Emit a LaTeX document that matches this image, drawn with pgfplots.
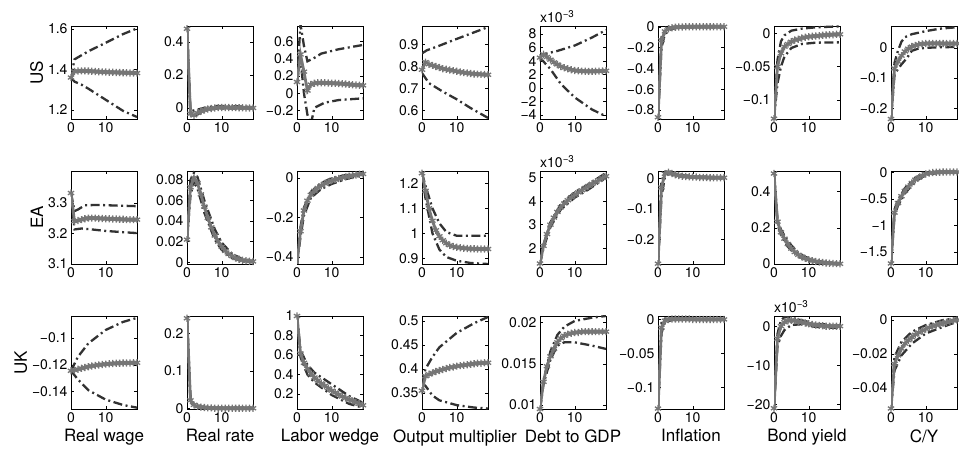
\documentclass[border=0pt]{standalone}
\usepackage{pgfplots}
\pgfplotsset{compat=1.18}
\usepackage{fontspec}
\setmainfont{TeX Gyre Heros}
\definecolor{medc}{RGB}{118,118,118}
\definecolor{bandc}{RGB}{50,50,50}
\newcommand{\ticksz}{\fontsize{14}{14}\selectfont}
\newcommand{\labsz}{\fontsize{17}{18}\selectfont}
\pgfplotsset{
  pan/.style={scale only axis, width=66pt, height=93pt, anchor=north west,
    xmin=0, xmax=19, xtick={0,10}, xticklabels={0,10},
    tick align=inside, major tick length=3pt,
    every tick/.style={black, line width=0.4pt},
    axis line style={black, line width=0.9pt},
    tick label style={font=\ticksz},
    label style={font=\labsz},
    scaled y ticks=false, scaled x ticks=false,
    ylabel style={yshift=-2pt},
  },
  med/.style={draw=medc, line width=2.8pt, mark=asterisk, mark size=3.6pt, mark options={solid, line width=1.3pt, draw=medc}},
  band/.style={draw=bandc, line width=2.3pt, dash pattern=on 9pt off 3.5pt on 2pt off 3.5pt, no marks},
}
\newcommand{\M}[1]{\addplot[med] table[x expr=\coordindex, y index=0, row sep=\\, header=false] {#1};}
\newcommand{\B}[1]{\addplot[band] coordinates {#1};}
\begin{document}
\begin{tikzpicture}
\useasboundingbox (0pt,0pt) rectangle (959pt,450pt);
%================ ROW 1 : US =================
\begin{axis}[pan, at={(71pt,424pt)}, ymin=1.155, ymax=1.615, ytick={1.2,1.4,1.6}, yticklabels={1.2,1.4,1.6}, ylabel={US}]
\B{(0,1.36)(1,1.45)(3,1.47)(5,1.49)(10,1.532)(15,1.575)(19,1.603)}
\B{(0,1.36)(1,1.34)(3,1.325)(5,1.305)(10,1.25)(15,1.195)(19,1.165)}
\M{1.36\\1.39\\1.392\\1.393\\1.393\\1.392\\1.391\\1.39\\1.389\\1.388\\1.387\\1.386\\1.386\\1.385\\1.385\\1.384\\1.384\\1.383\\1.383\\1.382\\}
\end{axis}
\begin{axis}[pan, at={(187pt,424pt)}, ymin=-0.067, ymax=0.497, ytick={0,0.2,0.4}, yticklabels={0,0.2,0.4}]
\B{(0,0.48)(1,-0.02)(3,-0.01)(5,0.0)(8,0.012)(12,0.012)(16,0.008)(19,0.005)}
\B{(0,0.48)(1,-0.05)(3,-0.04)(5,-0.015)(8,-0.005)(12,-0.003)(19,-0.002)}
\M{0.48\\-0.035\\-0.045\\-0.03\\-0.02\\-0.012\\-0.007\\-0.003\\0\\0.002\\0.003\\0.003\\0.003\\0.002\\0.002\\0.001\\0.001\\0\\0\\0\\}
\end{axis}
\begin{axis}[pan, at={(297pt,424pt)}, ymin=-0.30, ymax=0.78, ytick={-0.2,0,0.2,0.4,0.6}, yticklabels={−0.2,0,0.2,0.4,0.6}]
\B{(0,0.13)(1,0.80)(2,0.55)(3,0.37)(5,0.41)(7,0.46)(12,0.51)(19,0.56)}
\B{(0,0.13)(1,0.40)(2,0.0)(3,-0.25)(4,-0.36)(5,-0.17)(8,-0.11)(12,-0.08)(19,-0.06)}
\M{0.13\\0.45\\0.25\\0.03\\0.10\\0.115\\0.12\\0.12\\0.12\\0.118\\0.116\\0.114\\0.112\\0.11\\0.106\\0.102\\0.098\\0.095\\0.092\\0.09\\}
\end{axis}
\begin{axis}[pan, at={(422pt,424pt)}, ymin=0.56, ymax=0.985, ytick={0.6,0.7,0.8,0.9}, yticklabels={0.6,0.7,0.8,0.9}]
\B{(0,0.86)(1.4,0.874)(5,0.895)(9,0.92)(14,0.95)(19,0.98)}
\B{(0,0.77)(2,0.724)(6,0.685)(10,0.65)(14,0.61)(19,0.565)}
\M{0.785\\0.82\\0.81\\0.805\\0.80\\0.795\\0.79\\0.787\\0.784\\0.781\\0.778\\0.775\\0.772\\0.77\\0.768\\0.766\\0.765\\0.764\\0.763\\0.762\\}
\end{axis}
\begin{axis}[pan, name=p15, at={(540pt,424pt)}, ymin=-4.6, ymax=9.2, ytick={-4,-2,0,2,4,6,8}, yticklabels={−4,−2,0,2,4,6,8}]
\B{(0,4.5)(1,5.0)(5,5.5)(10,6.3)(15,7.5)(19,8.6)}
\B{(0,4.5)(3,2.8)(6,0.6)(10,-1.4)(15,-3.2)(19,-4.2)}
\M{4.5\\5.0\\4.6\\4.2\\3.8\\3.5\\3.2\\3.0\\2.85\\2.7\\2.6\\2.55\\2.5\\2.48\\2.47\\2.47\\2.48\\2.5\\2.52\\2.55\\}
\end{axis}
\node[anchor=south west, font=\ticksz, inner sep=0pt] at ([yshift=3pt]p15.north west) {x10\textsuperscript{−3}};
\begin{axis}[pan, at={(658pt,424pt)}, ymin=-0.887, ymax=0.007, ytick={-0.8,-0.6,-0.4,-0.2,0}, yticklabels={−0.8,−0.6,−0.4,−0.2,0}]
\B{(0,-0.87)(1,-0.10)(2,-0.03)(3,-0.01)(5,0)(19,0.003)}
\B{(0,-0.87)(1,-0.2)(2,-0.07)(3,-0.035)(5,-0.012)(8,-0.004)(19,-0.002)}
\M{-0.87\\-0.13\\-0.045\\-0.02\\-0.01\\-0.005\\-0.003\\-0.002\\-0.001\\0\\0\\0\\0\\0\\0\\0\\0\\0\\0\\0\\}
\end{axis}
\begin{axis}[pan, at={(774pt,424pt)}, ymin=-0.1285, ymax=0.011, ytick={-0.1,-0.05,0}, yticklabels={−0.1,−0.05,0}]
\B{(0,-0.128)(1,-0.04)(2,-0.012)(3,-0.003)(5,0.004)(8,0.007)(12,0.009)(19,0.0105)}
\B{(0,-0.128)(1,-0.075)(2,-0.05)(3,-0.035)(5,-0.022)(8,-0.016)(12,-0.014)(19,-0.0135)}
\M{-0.128\\-0.05\\-0.03\\-0.02\\-0.016\\-0.0126\\-0.01\\-0.009\\-0.007\\-0.006\\-0.005\\-0.0045\\-0.004\\-0.0035\\-0.003\\-0.0025\\-0.002\\-0.002\\-0.0015\\-0.0015\\}
\end{axis}
\begin{axis}[pan, at={(891pt,424pt)}, ymin=-0.235, ymax=0.072, ytick={-0.2,-0.1,0}, yticklabels={−0.2,−0.1,0}]
\B{(0,-0.235)(1,-0.05)(2,-0.01)(3,0.02)(4,0.035)(6,0.045)(10,0.055)(14,0.063)(19,0.068)}
\B{(0,-0.235)(1,-0.09)(2,-0.07)(3,-0.055)(4.5,-0.035)(6,-0.01)(8,-0.002)(12,0.001)(19,0.003)}
\M{-0.235\\-0.068\\-0.046\\-0.026\\-0.012\\-0.003\\0.004\\0.008\\0.011\\0.013\\0.014\\0.0145\\0.0145\\0.0145\\0.0145\\0.014\\0.014\\0.014\\0.014\\0.014\\}
\end{axis}
%================ ROW 2 : EA =================
\begin{axis}[pan, at={(71pt,279pt)}, ymin=3.1, ymax=3.404, ytick={3.1,3.2,3.3}, yticklabels={3.1,3.2,3.3}, ylabel={EA}]
\B{(0,3.332)(1,3.273)(2,3.278)(4,3.292)(8,3.293)(13,3.291)(19,3.289)}
\B{(0,3.332)(1,3.213)(3,3.216)(6,3.213)(10,3.208)(15,3.204)(19,3.201)}
\M{3.332\\3.24\\3.242\\3.245\\3.248\\3.25\\3.25\\3.25\\3.249\\3.249\\3.248\\3.248\\3.247\\3.247\\3.246\\3.246\\3.245\\3.245\\3.245\\3.245\\}
\end{axis}
\begin{axis}[pan, at={(187pt,279pt)}, ymin=-0.0017, ymax=0.0887, ytick={0,0.02,0.04,0.06,0.08}, yticklabels={0,0.02,0.04,0.06,0.08}]
\B{(0,0.022)(1,0.08)(2,0.087)(3,0.083)(5,0.06)(8,0.032)(10,0.019)(13,0.008)(16,0.003)(19,0.0015)}
\B{(0,0.022)(1,0.065)(2,0.078)(3,0.072)(5,0.048)(8,0.022)(10,0.012)(13,0.004)(16,0.001)(19,0.0)}
\M{0.022\\0.073\\0.082\\0.077\\0.066\\0.054\\0.043\\0.034\\0.026\\0.020\\0.015\\0.011\\0.008\\0.006\\0.004\\0.003\\0.002\\0.0015\\0.001\\0.0008\\}
\end{axis}
\begin{axis}[pan, at={(297pt,279pt)}, ymin=-0.437, ymax=0.036, ytick={-0.4,-0.2,0}, yticklabels={−0.4,−0.2,0}]
\B{(0,-0.44)(1,-0.25)(2,-0.15)(4,-0.07)(7,-0.025)(10,0.0)(14,0.015)(19,0.025)}
\B{(0,-0.44)(1,-0.3)(2,-0.19)(4,-0.10)(7,-0.055)(10,-0.03)(14,-0.005)(19,0.015)}
\M{-0.44\\-0.27\\-0.165\\-0.115\\-0.085\\-0.065\\-0.05\\-0.038\\-0.028\\-0.02\\-0.013\\-0.007\\-0.002\\0.002\\0.006\\0.01\\0.013\\0.016\\0.019\\0.021\\}
\end{axis}
\begin{axis}[pan, at={(422pt,279pt)}, ymin=0.877, ymax=1.249, ytick={0.9,1,1.1,1.2}, yticklabels={0.9,1,1.1,1.2}]
\B{(0,1.24)(1,1.19)(3,1.10)(5,1.04)(7,1.005)(10,0.99)(19,0.99)}
\B{(0,1.24)(1,1.14)(3,1.00)(5,0.935)(7,0.905)(10,0.89)(14,0.881)(19,0.877)}
\M{1.24\\1.17\\1.10\\1.05\\1.012\\0.988\\0.972\\0.96\\0.952\\0.947\\0.944\\0.942\\0.94\\0.939\\0.938\\0.938\\0.937\\0.937\\0.937\\0.937\\}
\end{axis}
\begin{axis}[pan, name=p25, at={(540pt,279pt)}, ymin=1.33, ymax=5.28, ytick={2,3,4,5}, yticklabels={2,3,4,5}]
\B{(0,1.35)(1,2.15)(3,3.1)(6,3.87)(10,4.38)(14,4.72)(19,5.2)}
\B{(0,1.35)(1,2.0)(3,2.9)(6,3.65)(10,4.15)(14,4.5)(19,5.0)}
\M{1.35\\2.1\\2.6\\3.0\\3.3\\3.54\\3.74\\3.9\\4.04\\4.16\\4.27\\4.37\\4.465\\4.555\\4.645\\4.735\\4.82\\4.9\\4.98\\5.06\\}
\end{axis}
\node[anchor=south west, font=\ticksz, inner sep=0pt] at ([yshift=3pt]p25.north west) {x10\textsuperscript{−3}};
\begin{axis}[pan, at={(658pt,279pt)}, ymin=-0.281, ymax=0.024, ytick={-0.2,-0.1,0}, yticklabels={−0.2,−0.1,0}]
\B{(0,-0.28)(1,-0.01)(2,0.02)(3,0.022)(5,0.015)(10,0.006)(19,0.003)}
\B{(0,-0.28)(1,-0.06)(2,0.005)(3,0.015)(5,0.01)(10,0.003)(19,0.001)}
\M{-0.28\\-0.03\\0.015\\0.02\\0.016\\0.012\\0.009\\0.007\\0.006\\0.005\\0.004\\0.004\\0.003\\0.003\\0.003\\0.002\\0.002\\0.002\\0.002\\0.002\\}
\end{axis}
\begin{axis}[pan, at={(774pt,279pt)}, ymin=0, ymax=0.514, ytick={0,0.2,0.4}, yticklabels={0,0.2,0.4}]
\B{(0,0.5)(1,0.245)(2,0.19)(4,0.125)(7,0.06)(10,0.03)(14,0.012)(19,0.003)}
\B{(0,0.5)(1,0.22)(2,0.16)(4,0.095)(7,0.042)(10,0.018)(14,0.005)(19,0.0)}
\M{0.5\\0.234\\0.175\\0.14\\0.11\\0.085\\0.066\\0.051\\0.04\\0.031\\0.024\\0.018\\0.014\\0.011\\0.008\\0.006\\0.004\\0.003\\0.002\\0.001\\}
\end{axis}
\begin{axis}[pan, at={(891pt,279pt)}, ymin=-1.73, ymax=0.025, ytick={-1.5,-1,-0.5,0}, yticklabels={−1.5,−1,−0.5,0}]
\B{(0,-1.72)(1,-0.70)(2,-0.52)(4,-0.30)(7,-0.10)(10,-0.015)(14,0.01)(19,0.012)}
\B{(0,-1.72)(1,-0.82)(2,-0.63)(4,-0.40)(7,-0.17)(10,-0.05)(14,-0.005)(19,0.002)}
\M{-1.72\\-0.76\\-0.58\\-0.45\\-0.35\\-0.27\\-0.2\\-0.14\\-0.1\\-0.06\\-0.03\\-0.015\\-0.005\\0\\0.003\\0.005\\0.006\\0.006\\0.006\\0.006\\}
\end{axis}
%================ ROW 3 : UK =================
\begin{axis}[pan, at={(71pt,134pt)}, ymin=-0.153, ymax=-0.0836, ytick={-0.14,-0.12,-0.1}, yticklabels={−0.14,−0.12,−0.1}, ylabel={UK}, xlabel={Real wage}]
\B{(0,-0.1245)(2,-0.114)(5,-0.104)(10,-0.094)(15,-0.088)(19,-0.085)}
\B{(0,-0.1245)(2,-0.131)(5,-0.139)(10,-0.146)(15,-0.150)(19,-0.152)}
\M{-0.1245\\-0.124\\-0.1233\\-0.1226\\-0.122\\-0.1214\\-0.1209\\-0.1205\\-0.1201\\-0.1198\\-0.1195\\-0.1193\\-0.1191\\-0.1189\\-0.1188\\-0.1187\\-0.1186\\-0.1186\\-0.1185\\-0.1185\\}
\end{axis}
\begin{axis}[pan, at={(187pt,134pt)}, ymin=-0.001, ymax=0.246, ytick={0,0.1,0.2}, yticklabels={0,0.1,0.2}, xlabel={Real rate}]
\B{(0,0.24)(1,0.028)(2,0.012)(4,0.005)(8,0.002)(19,0.001)}
\B{(0,0.24)(1,0.016)(2,0.007)(4,0.003)(8,0.001)(19,0.0)}
\M{0.24\\0.022\\0.01\\0.006\\0.004\\0.003\\0.002\\0.002\\0.001\\0.001\\0.001\\0.001\\0.001\\0.001\\0.001\\0.001\\0.001\\0.001\\0.001\\0.001\\}
\end{axis}
\begin{axis}[pan, at={(297pt,134pt)}, ymin=0.047, ymax=1.0, ytick={0.2,0.4,0.6,0.8,1}, yticklabels={0.2,0.4,0.6,0.8,1}, xlabel={Labor wedge}]
\B{(0,1)(1,0.65)(3,0.50)(5,0.42)(10,0.30)(15,0.18)(19,0.11)}
\B{(0,1)(1,0.58)(3,0.40)(5,0.32)(10,0.19)(15,0.10)(19,0.06)}
\M{1.0\\0.615\\0.52\\0.46\\0.41\\0.37\\0.34\\0.31\\0.285\\0.26\\0.235\\0.215\\0.195\\0.175\\0.16\\0.145\\0.13\\0.115\\0.1\\0.085\\}
\end{axis}
\begin{axis}[pan, at={(422pt,134pt)}, ymin=0.317, ymax=0.51, ytick={0.35,0.4,0.45,0.5}, yticklabels={0.35,0.4,0.45,0.5}, xlabel={Output multiplier}]
\B{(0,0.37)(1,0.40)(3,0.425)(5,0.445)(10,0.475)(15,0.495)(19,0.508)}
\B{(0,0.37)(1,0.365)(3,0.345)(5,0.335)(10,0.325)(15,0.32)(19,0.318)}
\M{0.355\\0.385\\0.389\\0.392\\0.395\\0.397\\0.399\\0.401\\0.403\\0.404\\0.406\\0.407\\0.408\\0.409\\0.41\\0.411\\0.412\\0.412\\0.413\\0.413\\}
\end{axis}
\begin{axis}[pan, at={(540pt,134pt)}, ymin=0.0095, ymax=0.0208, ytick={0.01,0.015,0.02}, yticklabels={0.01,0.015,0.02}, xlabel={Debt to GDP}]
\B{(0,0.0095)(1,0.013)(3,0.0165)(5,0.0185)(7,0.0195)(10,0.0202)(15,0.0206)(19,0.0208)}
\B{(0,0.0095)(1,0.0125)(3,0.0155)(5,0.0172)(7,0.0176)(10,0.0176)(15,0.0172)(19,0.0168)}
\M{0.0095\\0.0128\\0.0147\\0.0159\\0.0168\\0.0176\\0.0181\\0.0184\\0.0186\\0.0187\\0.0188\\0.0188\\0.0189\\0.0189\\0.0189\\0.0189\\0.0189\\0.0189\\0.0189\\0.0189\\}
\end{axis}
\begin{axis}[pan, at={(658pt,134pt)}, ymin=-0.1316, ymax=0.005, ytick={-0.1,-0.05,0}, yticklabels={−0.1,−0.05,0}, xlabel={Inflation}]
\B{(0,-0.131)(1,-0.005)(2,0.001)(19,0.0005)}
\B{(0,-0.131)(1,-0.02)(2,-0.004)(4,-0.001)(19,0)}
\M{-0.131\\-0.012\\-0.002\\0\\0.0005\\0.0005\\0.0005\\0.0005\\0.0005\\0.0005\\0\\0\\0\\0\\0\\0\\0\\0\\0\\0\\}
\end{axis}
\begin{axis}[pan, name=p37, at={(774pt,134pt)}, ymin=-21.2, ymax=2.6, ytick={-20,-10,0}, yticklabels={−20,−10,0}, xlabel={Bond yield}]
\B{(0,-21)(1,-2)(2,1.5)(3,2.3)(5,2.2)(8,1.5)(12,0.6)(19,0.2)}
\B{(0,-21)(1,-5)(2,-2.5)(3,-1)(5,0.3)(8,0.5)(12,-0.2)(19,-0.5)}
\M{-21\\-3.2\\0\\1.0\\1.4\\1.5\\1.4\\1.2\\1.0\\0.8\\0.6\\0.4\\0.3\\0.2\\0.1\\0\\0\\0\\0\\0\\}
\end{axis}
\node[anchor=south west, font=\ticksz, inner sep=0pt] at ([yshift=3pt]p37.north west) {x10\textsuperscript{−3}};
\begin{axis}[pan, at={(891pt,134pt)}, ymin=-0.0528, ymax=0.0024, ytick={-0.04,-0.02,0}, yticklabels={−0.04,−0.02,0}, xlabel={C/Y}]
\B{(0,-0.0525)(1,-0.022)(3,-0.013)(6,-0.007)(10,-0.003)(15,0)(19,0.001)}
\B{(0,-0.0525)(1,-0.03)(3,-0.021)(6,-0.014)(10,-0.008)(15,-0.004)(19,-0.001)}
\M{-0.0525\\-0.026\\-0.021\\-0.017\\-0.014\\-0.012\\-0.0102\\-0.0087\\-0.0074\\-0.0063\\-0.0053\\-0.0044\\-0.0036\\-0.003\\-0.0024\\-0.0018\\-0.0013\\-0.0008\\-0.0004\\0\\}
\end{axis}
\end{tikzpicture}
\end{document}
